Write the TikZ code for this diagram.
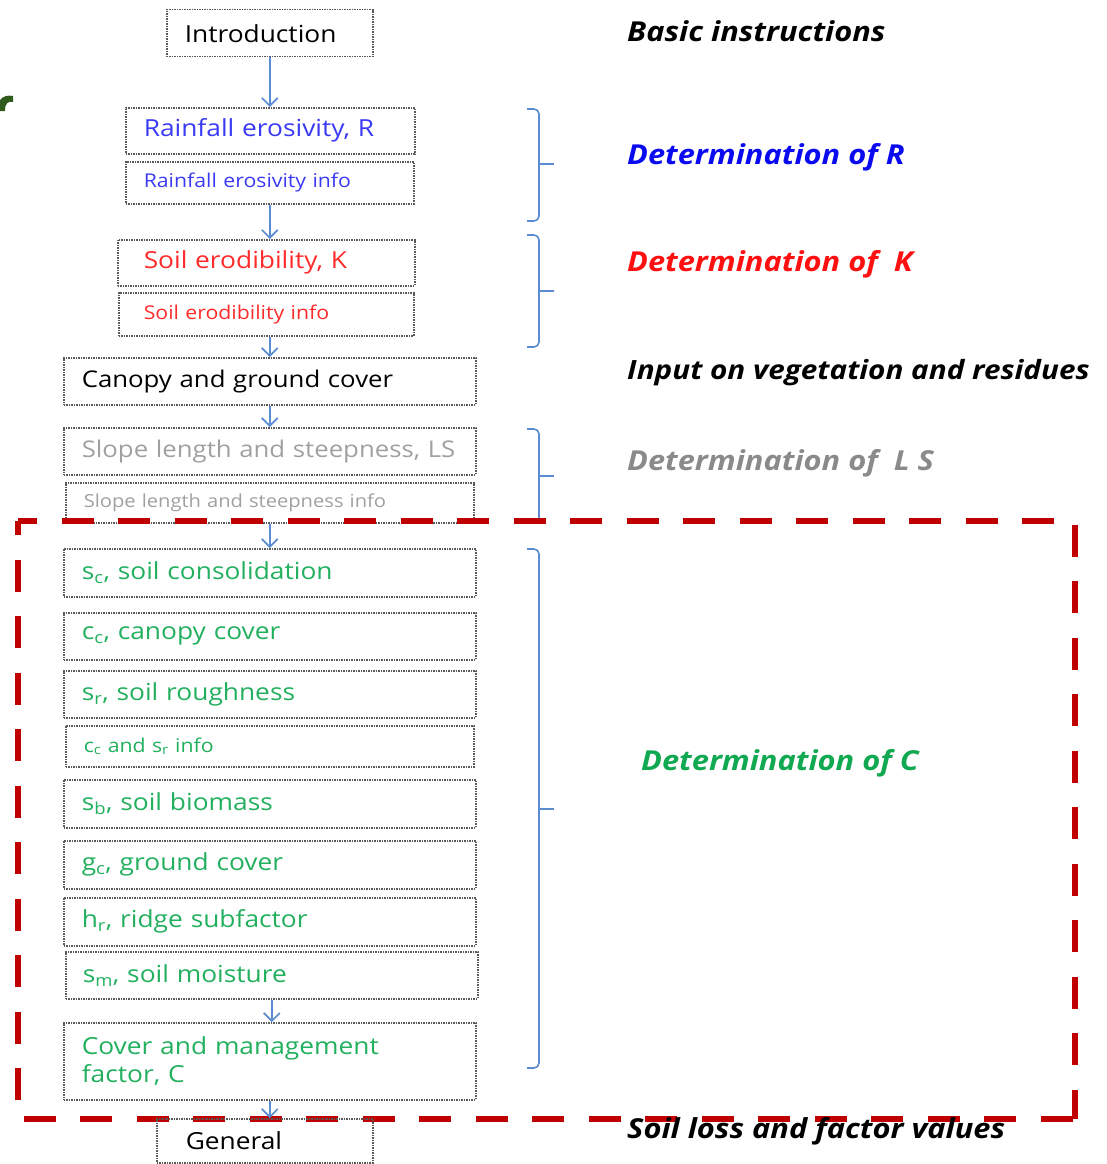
\documentclass[tikz,border=0pt]{standalone}
\usepackage{fontspec}
\setmainfont{Open Sans}[FakeStretch=1.12]
\usetikzlibrary{arrows.meta,positioning}

\definecolor{arrowblue}{HTML}{5B8BD0}
\definecolor{boxblue}{HTML}{3A3AF5}
\definecolor{boxred}{HTML}{FF2B2B}
\definecolor{boxgreen}{HTML}{22B05E}
\definecolor{boxgray}{HTML}{A0A0A0}
\definecolor{labblue}{HTML}{0A0AF0}
\definecolor{labred}{HTML}{FF1010}
\definecolor{labgray}{HTML}{8A8A8A}
\definecolor{labgreen}{HTML}{10A850}
\definecolor{framered}{HTML}{C00000}
\definecolor{darkgreen}{HTML}{2E5A1C}

\begin{document}
\begin{tikzpicture}[x=1pt,y=-1pt,
    box/.style={draw=black!65, densely dotted, line width=1.5pt, anchor=north west,
        inner xsep=18pt, inner ysep=0pt, align=left, font=\fontsize{23.5}{28}\selectfont},
    bigbox/.style={box, font=\fontsize{23}{27}\selectfont},
    infobox/.style={box, font=\fontsize{19}{22}\selectfont},
    flow/.style={draw=arrowblue, line width=1.6pt,
        -{Straight Barb[length=8pt,width=16pt,line width=1.6pt]}},
    brk/.style={draw=arrowblue, line width=1.6pt, rounded corners=5pt},
    side/.style={anchor=west, inner xsep=0pt, font=\fontsize{27.5}{32}\selectfont\bfseries\itshape},
    frame/.style={draw=framered, line width=6.5pt, dash pattern=on 32pt off 24.5pt},
    ]
\useasboundingbox (0,0) rectangle (1106,1164);

% cut off piece at the left edge
\fill[darkgreen] (0,111) -- (0,100) .. controls (3,96) and (8,95) .. (13,96)
    -- (13,102) .. controls (8,101) and (5,103) .. (5,111) -- cycle;

% flow chart boxes
\node[box, text width=170pt, minimum height=47pt] (intro) at (166,9) {Introduction};
\node[box, text=boxblue, text width=253pt, minimum height=46pt] (rain) at (125,107) {Rainfall erosivity, R};
\node[infobox, text=boxblue, text width=252pt, minimum height=42pt] (rinfo) at (125,161) {Rainfall erosivity info};
\node[box, text=boxred, inner xsep=26pt, text width=245pt, minimum height=46pt] (soilk) at (117,239) {Soil erodibility, K};
\node[infobox, text=boxred, inner xsep=25pt, text width=245pt, minimum height=43pt] (kinfo) at (118,292) {Soil erodibility info};
\node[bigbox, text width=376pt, minimum height=47pt] (canopy) at (63,357) {Canopy and ground cover};
\node[bigbox, text=boxgray, text width=376pt, minimum height=47pt] (slope) at (63,427) {Slope length and steepness, LS};
\node[infobox, text=boxgray, font=\fontsize{18}{21}\selectfont, text width=372pt, minimum height=40pt] (lsinfo) at (65,482) {Slope length and steepness info};
\node[box, text=boxgreen, text width=376pt, minimum height=48pt] (sc) at (63,548) {s\textsubscript{c}, soil consolidation};
\node[box, text=boxgreen, text width=376pt, minimum height=47pt] (cc) at (63,612) {c\textsubscript{c}, canopy cover};
\node[box, text=boxgreen, text width=376pt, minimum height=47pt] (sr) at (63,670) {s\textsubscript{r}, soil roughness};
\node[infobox, text=boxgreen, text width=372pt, minimum height=41pt] (crinfo) at (65,725) {c\textsubscript{c} and s\textsubscript{r} info};
\node[box, text=boxgreen, text width=376pt, minimum height=48pt] (sb) at (63,779) {s\textsubscript{b}, soil biomass};
\node[box, text=boxgreen, text width=376pt, minimum height=48pt] (gc) at (63,840) {g\textsubscript{c}, ground cover};
\node[box, text=boxgreen, text width=376pt, minimum height=48pt] (hr) at (63,897) {h\textsubscript{r}, ridge subfactor};
\node[box, text=boxgreen, inner xsep=17pt, text width=378pt, minimum height=47pt] (sm) at (65,951) {s\textsubscript{m}, soil moisture};
\node[box, text=boxgreen, text width=376pt, minimum height=77pt] (cover) at (63,1022) {Cover and management\\factor, C};

% arrows
\draw[flow] (intro.south) -- (intro.south |- rain.north);
\draw[flow] (rinfo.south) -- (rinfo.south |- soilk.north);
\draw[flow] (kinfo.south -| rinfo.south) -- (rinfo.south |- canopy.north);
\draw[flow] (canopy.south) -- (canopy.south |- slope.north);
\draw[flow] (lsinfo.south) -- (lsinfo.south |- sc.north);
\draw[flow] (sm.south) -- (sm.south |- cover.north);

% braces
\draw[brk] (527,109) -- (539,109) -- (539,221) -- (527,221);
\draw[brk] (539,164) -- (554,164);
\draw[brk] (527,235) -- (539,235) -- (539,347) -- (527,347);
\draw[brk] (539,291) -- (554,291);
\draw[brk] (527,429) -- (539,429) -- (539,521);
\draw[brk] (539,476) -- (554,476);
\draw[brk] (527,549) -- (539,549) -- (539,1068) -- (527,1068);
\draw[brk] (539,809) -- (554,809);

% labels on the right
\node[side] (lbasic) at (627,31) {Basic instructions};
\node[side, text=labblue] (lr) at (627,157) {Determination of R};
\node[side, text=labred] (lk) at (627,264) {Determination of\ \ K};
\node[side, font=\fontsize{26.5}{31}\selectfont\bfseries\itshape] (lveg) at (627,373) {Input on vegetation and residues};
\node[side, text=labgray] (lls) at (627,463) {Determination of\ \ L S};
\node[side, text=labgreen] (lc) at (641,763) {Determination of C};

% frame round the C part
\draw[frame, dash phase=13pt] (18,521) -- (1075,521) -- (1075,1119);
\draw[frame, dash phase=18pt] (18,521) -- (18,1119) -- (1075,1119);

\node[box, inner xsep=29pt, text width=158pt, minimum height=44pt] (general) at (156,1118) {General};
\draw[flow] (cover.south) -- (cover.south |- general.north);
\node[side] (lsoil) at (627,1131) {Soil loss and factor values};
\end{tikzpicture}
\end{document}
